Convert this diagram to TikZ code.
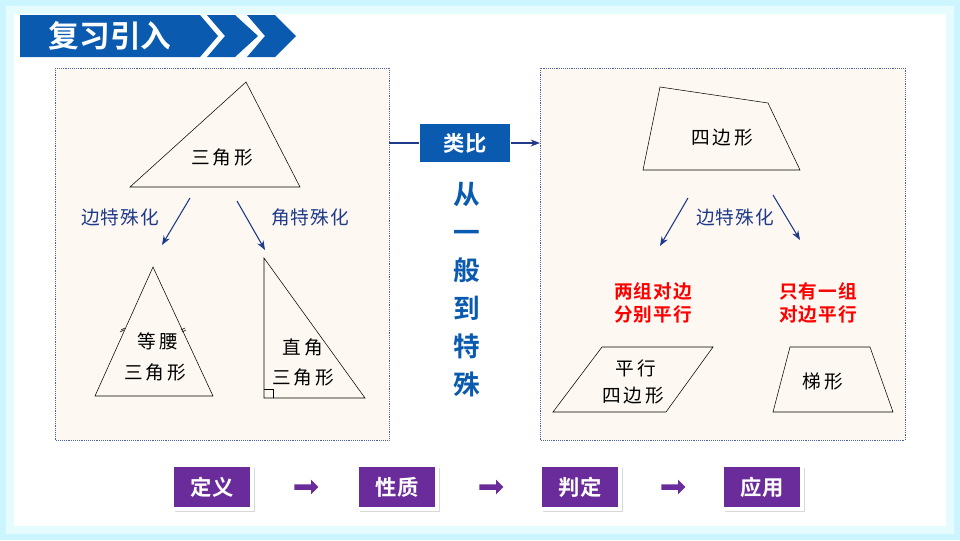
\documentclass[tikz,border=0pt]{standalone}
\usepackage{fontspec}
\newfontfamily\cjk{Noto Sans CJK SC}
\newfontfamily\cjkb{Noto Sans CJK SC Bold}
\usetikzlibrary{arrows.meta,shapes.arrows,shadows}
\definecolor{navy}{HTML}{1F3A8A}
\definecolor{bann}{HTML}{0A5AB0}
\definecolor{purp}{HTML}{6A2C9A}
\definecolor{panel}{HTML}{FDF9F2}
\begin{document}
\begin{tikzpicture}[x=0.75pt,y=-0.75pt,
 txt/.style={font=\cjk\fontsize{14}{16}\selectfont\addfontfeature{LetterSpace=15},text=black},
 lab/.style={font=\cjk\fontsize{14}{16}\selectfont\addfontfeature{LetterSpace=5},text=navy},
 red/.style={font=\cjkb\fontsize{14}{17}\selectfont\addfontfeature{LetterSpace=5},text=red,align=center},
 arr/.style={-{Stealth[length=7pt]},navy,thick},
 pbox/.style={fill=purp,draw=white,line width=3pt,minimum width=60pt,minimum height=33pt,text=white,font=\cjkb\fontsize{16}{18}\selectfont,drop shadow={opacity=0.3}},
 parr/.style={single arrow,fill=purp,minimum height=18pt,minimum width=11pt,single arrow head extend=2pt,inner sep=1pt},
 panelst/.style={fill=panel,draw=navy!80,densely dotted}]
\useasboundingbox (0,0) rectangle (960,540);
\fill[blue!20!cyan!20] (0,0) rectangle (960,540);
\fill[blue!10!cyan!10] (6,6) rectangle (954,534);
\fill[white] (14,14) rectangle (946,526);
% banner
\fill[bann] (20,15) -- (200,15) -- (218,36) -- (200,57) -- (20,57) -- cycle;
\fill[bann] (207,15) -- (235,15) -- (258,36) -- (235,57) -- (207,57) -- (225,36) -- cycle;
\fill[bann] (247,15) -- (275,15) -- (296,36) -- (275,57) -- (247,57) -- (265,36) -- cycle;
\node[font=\cjkb\fontsize{23}{24}\selectfont,text=white] (title) at (110,36) {复习引入};
% panels
\draw[panelst] (55,68) rectangle (389,440);
\draw[panelst] (540,68) rectangle (905,440);
% left
\draw (130,187) -- (246,82) -- (300,187) -- cycle;
\node[txt] (t0) at (222,157) {三角形};
\coordinate (a1s) at (190,198); \coordinate (a1e) at (162,245);
\coordinate (a2s) at (237,201); \coordinate (a2e) at (265,250);
\draw[arr] (a1s) -- (a1e); \draw[arr] (a2s) -- (a2e);
\node[lab] (l1) at (120,217) {边特殊化};
\node[lab] (l2) at (310,217) {角特殊化};
\draw (95,396) -- (153,267) -- (213,396) -- cycle;
\draw (120,332) -- (124,330) (121,330) -- (125,328);
\draw (181,330) -- (185,328) (182,332) -- (186,330);
\node[txt] (iso1) at (158,341) {等腰};
\node[txt] (iso2) at (155,372) {三角形};
\draw (264,258) -- (264,398) -- (365,398) -- cycle;
\draw (264,389) -- (273,389) -- (273,398);
\node[txt] (rt1) at (303,347) {直角};
\node[txt] (rt2) at (303,377) {三角形};
% middle
\node[fill=bann,minimum width=68pt,minimum height=28pt,text=white,font=\cjkb\fontsize{16}{18}\selectfont] (lb) at (465,143) {类比};
\coordinate (pl) at (389,143); \coordinate (pr) at (540,143);
\draw[navy,thick] (pl) -- (lb.west);
\draw[arr] (lb.east) -- (pr);
\node[font=\cjkb\fontsize{20}{28.5}\selectfont,text=bann,align=center] (v) at (467,290) {从\\一\\般\\到\\特\\殊};
% right
\draw (660,87) -- (768,103) -- (800,170) -- (643,170) -- cycle;
\node[txt] (q0) at (722,138) {四边形};
\coordinate (b1s) at (688,198); \coordinate (b1e) at (660,246);
\coordinate (b2s) at (773,195); \coordinate (b2e) at (800,240);
\draw[arr] (b1s) -- (b1e); \draw[arr] (b2s) -- (b2e);
\node[lab] (l3) at (735,217) {边特殊化};
\node[red] (r1) at (653,303) {两组对边\\分别平行};
\node[red] (r2) at (818,303) {只有一组\\对边平行};
\draw (553,412) -- (602,347) -- (713,347) -- (666,412) -- cycle;
\node[txt] (p1) at (636,368) {平行};
\node[txt] (p2) at (633,396) {四边形};
\draw (773,412) -- (790,347) -- (870,347) -- (893,412) -- cycle;
\node[txt] (tz) at (823,381) {梯形};
% bottom
\node[pbox] (d1) at (212,487) {定义};
\node[pbox] (d2) at (397,487) {性质};
\node[pbox] (d3) at (580,487) {判定};
\node[pbox] (d4) at (762,487) {应用};
\node[parr] (pa1) at (305,487) {};
\node[parr] (pa2) at (490,487) {};
\node[parr] (pa3) at (672,487) {};
\end{tikzpicture}
\end{document}
